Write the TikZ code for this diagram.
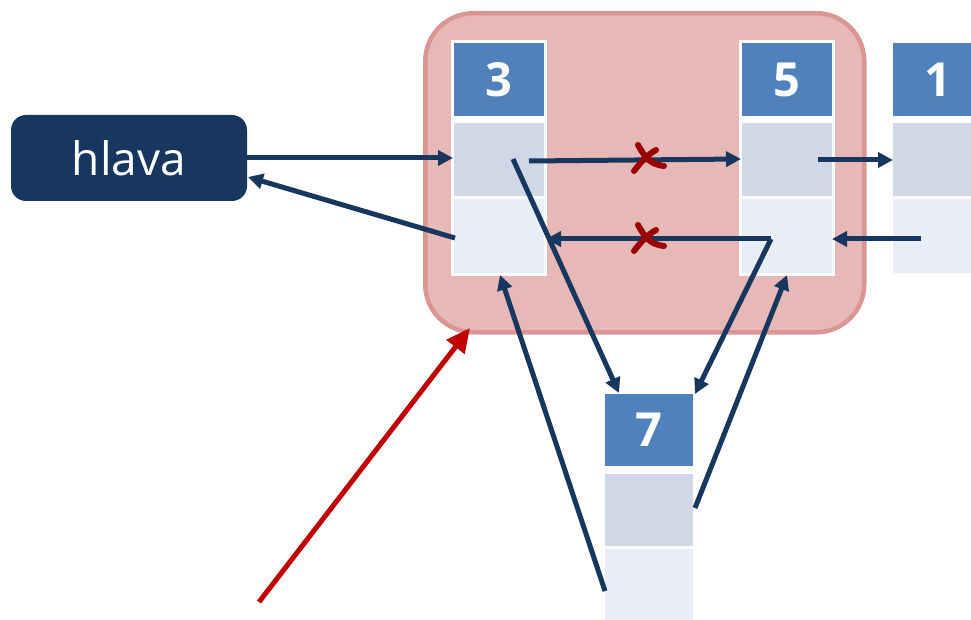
\documentclass[tikz,border=0pt]{standalone}
\usepackage{fontspec}
\setmainfont{Open Sans}
\usetikzlibrary{arrows.meta}
\definecolor{navy}{HTML}{17375E}
\definecolor{hdr}{HTML}{4F81BD}
\definecolor{midc}{HTML}{D0D8E8}
\definecolor{botc}{HTML}{E9EDF4}
\definecolor{pinkf}{HTML}{E6B9B8}
\definecolor{pinkb}{HTML}{D99694}
\definecolor{redarr}{HTML}{C00000}
\definecolor{xred}{HTML}{990000}
\tikzset{
  cell/.style={draw=none, inner sep=0pt, anchor=north west, minimum width=90pt},
  hdrcell/.style={cell, fill=hdr, minimum height=73pt, text=white,
    font=\bfseries\fontsize{47}{50}\selectfont},
  midcell/.style={cell, fill=midc, minimum height=73pt},
  botcell/.style={cell, fill=botc, minimum height=74pt},
  link/.style={draw=navy, line width=5pt, -{Triangle[length=15pt,width=15pt]}},
  xmark/.style={draw=xred, line width=6pt, line cap=round},
}
\begin{document}
\begin{tikzpicture}[x=1pt,y=-1pt]
\useasboundingbox (0,0) rectangle (971,620);
% group box
\node[draw=pinkb, fill=pinkf, line width=4.5pt, rounded corners=48pt, inner sep=0pt,
      minimum width=439pt, minimum height=319pt, anchor=north west] (grp) at (423,11) {};
% white frames of nodes 3 and 5
\fill[white] (451,40) rectangle (547,276);
\fill[white] (739,40) rectangle (835,276);
% node 3
\node[hdrcell] (n3h) at (454,43) {3};
\node[midcell] (n3m) at (454,123) {};
\node[botcell] (n3b) at (454,199) {};
% node 5
\node[hdrcell] (n5h) at (742,43) {5};
\node[midcell] (n5m) at (742,123) {};
\node[botcell] (n5b) at (742,199) {};
% node 1
\node[hdrcell] (n1h) at (893,43) {1};
\node[midcell] (n1m) at (893,123) {};
\node[botcell] (n1b) at (893,199) {};
% node 7
\node[hdrcell, minimum width=88pt, minimum height=72pt] (n7h) at (605,394) {7};
\node[midcell, minimum width=88pt, minimum height=72pt] (n7m) at (605,474) {};
\node[botcell, minimum width=88pt, minimum height=72pt] (n7b) at (605,549) {};
% head
\node[fill=navy, rounded corners=15pt, minimum width=236pt, minimum height=86pt,
      inner sep=0pt, text=white, font=\fontsize{46}{50}\selectfont] (hlava) at (129,158) {hlava};
% endpoints
\coordinate (c3a) at (529,161);
\coordinate (c3b) at (513,159);
\coordinate (c5a) at (818,160);
\coordinate (c5b) at (771,239);
\coordinate (c1b) at (921,239);
\coordinate (c7m) at (695,508);
\coordinate (c7b) at (605,591);
\coordinate (t7l) at (619,393);
\coordinate (t7r) at (695,394);
\coordinate (t3s) at (500,275);
\coordinate (t5s) at (787,275);
\coordinate (t3e) at (546,239);
\coordinate (t5e) at (832,239);
\coordinate (t5w) at (741,159);
\coordinate (t1w) at (893,160);
\coordinate (t3w) at (453,158);
\coordinate (th) at (248,177);
\coordinate (c3w) at (455,238);
\coordinate (redstart) at (259,602);
\coordinate (redtip) at (470,328);
% connectors
\draw[link] (hlava.east |- t3w) -- (t3w);
\draw[link] (c3w) -- (th);
\draw[link] (c3a) -- (t5w);
\draw[link] (c3b) -- (t7l);
\draw[link] (c5b) -- (t3e);
\draw[link] (c5b) -- (t7r);
\draw[link] (c5a) -- (t1w);
\draw[link] (c1b) -- (t5e);
\draw[link] (c7m) -- (t5s);
\draw[link] (c7b) -- (t3s);
\draw[draw=redarr, line width=5pt, -{Triangle[length=24pt,width=22pt]}] (redstart) -- (redtip);
% crosses
\foreach \dy in {0,80} {
  \draw[xmark] (638,145+\dy) .. controls (645,157+\dy) and (649,164+\dy) .. (664,166+\dy);
  \draw[xmark] (656,150+\dy) .. controls (647,155+\dy) and (640,163+\dy) .. (634,171+\dy);
}
\end{tikzpicture}
\end{document}
